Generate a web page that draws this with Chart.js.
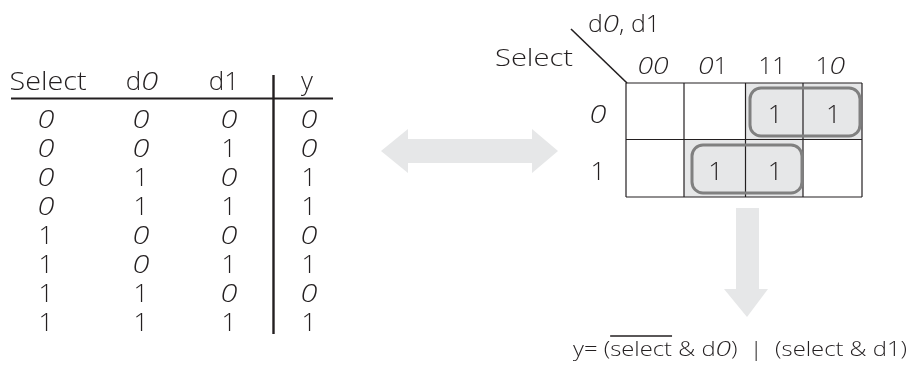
<!DOCTYPE html>
<html>
<head>
<meta charset="utf-8">
<script src="https://cdn.jsdelivr.net/npm/chart.js@4"></script>
<style>
html,body{margin:0;padding:0;background:#fff;}
#wrap{width:914px;height:367px;position:relative;}
</style>
</head>
<body>
<div id="wrap"><canvas id="c"></canvas></div>
<script>
// ---- data ----
const tableHeaders = ['Select', 'd0', 'd1', 'y'];
const selectCol = [0, 0, 0, 0, 1, 1, 1, 1];
const d0Col     = [0, 0, 1, 1, 0, 0, 1, 1];
const d1Col     = [0, 1, 0, 1, 0, 1, 0, 1];
const yCol      = [0, 0, 1, 1, 0, 1, 0, 1];
const kmapColLabels = ['00', '01', '11', '10'];
const kmapRowLabels = ['0', '1'];
const kmapRow0 = [0, 0, 1, 1];
const kmapRow1 = [0, 1, 1, 0];
const kmapRowTitle = 'Select';
const kmapColTitle = 'd0, d1';
const groupRow   = [0, 1];
const groupStart = [2, 1];
const groupEnd   = [3, 2];
const eqPrefix = 'y= (';
const eqBar = 'select';
const eqRest = ' & d0)  |  (select & d1)';

// ---- drawing ----
const INK = '#231f20';
const SHADE = '#e6e7e8';
const LOOP = '#808080';
const FONT = '"Open Sans", "Noto Sans", sans-serif';
const ZERO_STRETCH = 1.18;

function runs(s) {
  const out = [];
  for (const ch of s) {
    const it = ch === '0';
    if (out.length && out[out.length - 1].it === it) out[out.length - 1].t += ch;
    else out.push({t: ch, it});
  }
  return out;
}
function fontFor(size, it) { return (it ? 'italic ' : '') + '300 ' + size + 'px ' + FONT; }
function runW(ctx, r, size) { ctx.font = fontFor(size, r.it); return ctx.measureText(r.t).width * (r.it ? ZERO_STRETCH : 1); }
function measure(ctx, s, size) {
  let w = 0;
  for (const r of runs(s)) w += runW(ctx, r, size);
  return w;
}
// draw rich text; y = vertical center of cap height
function drawText(ctx, s, x, y, size, align, targetW) {
  const w = measure(ctx, s, size);
  const sx = targetW ? targetW / w : 1;
  const start = align === 'left' ? x : x - w * sx / 2;
  const base = y + size * 0.36;
  ctx.save();
  ctx.fillStyle = INK;
  ctx.textBaseline = 'alphabetic';
  ctx.textAlign = 'left';
  ctx.translate(start, base);
  ctx.scale(sx, 1);
  let cx = 0;
  for (const r of runs(s)) {
    ctx.font = fontFor(size, r.it);
    const k = r.it ? ZERO_STRETCH : 1;
    ctx.save();
    ctx.translate(cx, 0);
    ctx.scale(k, 1);
    ctx.fillText(r.t, 0, 0);
    ctx.restore();
    cx += ctx.measureText(r.t).width * k;
  }
  ctx.restore();
  return sx;
}

const diagram = {
  id: 'diagram',
  beforeDraw(chart) {
    const c = chart.ctx;
    c.save(); c.fillStyle = '#fff'; c.fillRect(0, 0, chart.width, chart.height); c.restore();
  },
  afterDraw(chart) {
    const ctx = chart.ctx;
    const X = v => chart.scales.x.getPixelForValue(v);
    const Y = v => chart.scales.y.getPixelForValue(v);
    const line = (x1, y1, x2, y2, w, col) => {
      ctx.save(); ctx.strokeStyle = col || INK; ctx.lineWidth = w; ctx.lineCap = 'butt';
      ctx.beginPath(); ctx.moveTo(X(x1), Y(y1)); ctx.lineTo(X(x2), Y(y2)); ctx.stroke(); ctx.restore();
    };
    const poly = (pts, col) => {
      ctx.save(); ctx.fillStyle = col; ctx.beginPath();
      pts.forEach((p, i) => i ? ctx.lineTo(X(p[0]), Y(p[1])) : ctx.moveTo(X(p[0]), Y(p[1])));
      ctx.closePath(); ctx.fill(); ctx.restore();
    };

    // ---- truth table ----
    const hdrX = [48, 142, 224, 307];
    const colX = [46, 141, 229, 309];
    tableHeaders.forEach((h, i) => drawText(ctx, h, X(hdrX[i]), Y(81), 26, 'center', i === 0 ? 77 : null));
    const cols = [selectCol, d0Col, d1Col, yCol];
    cols.forEach((col, ci) => col.forEach((v, ri) => {
      drawText(ctx, String(v), X(colX[ci]), Y(119 + ri * 29), 26, 'center');
    }));
    line(11, 98.5, 333, 98.5, 2);
    line(273.5, 75, 273.5, 334, 2.4);

    // ---- double arrow ----
    poly([[381,151],[408,129],[408,139],[532,139],[532,129],[558,151],[532,173],[532,163],[408,163],[408,173]], SHADE);

    // ---- K-map ----
    const gx = [626, 684, 745.5, 803, 862];
    const gy = [83, 139.5, 197];
    const rows = [kmapRow0, kmapRow1];
    rows.forEach((r, ri) => r.forEach((v, ci) => {
      if (v) {
        ctx.fillStyle = SHADE;
        ctx.fillRect(X(gx[ci]), Y(gy[ri]), X(gx[ci + 1]) - X(gx[ci]), Y(gy[ri + 1]) - Y(gy[ri]));
      }
    }));
    gx.forEach(x => line(x, gy[0], x, gy[2], 1.2));
    gy.forEach(y => line(gx[0], y, gx[4], y, 1.2));
    // loops
    const loopBox = [[750, 88, 860, 136], [692, 145, 802, 193]];
    groupRow.forEach((r, i) => {
      const b = loopBox[i];
      ctx.save(); ctx.strokeStyle = LOOP; ctx.lineWidth = 3;
      ctx.beginPath(); ctx.roundRect(X(b[0]), Y(b[1]), X(b[2]) - X(b[0]), Y(b[3]) - Y(b[1]), 11);
      ctx.stroke(); ctx.restore();
    });
    // cell values
    rows.forEach((r, ri) => r.forEach((v, ci) => {
      if (v) drawText(ctx, String(v), X((gx[ci] + gx[ci + 1]) / 2 + 1), Y((gy[ri] + gy[ri + 1]) / 2 + 2), 26, 'center');
    }));
    // labels
    kmapColLabels.forEach((l, i) => drawText(ctx, l, X((gx[i] + gx[i + 1]) / 2 - 2), Y(65), 24, 'center'));
    kmapRowLabels.forEach((l, i) => drawText(ctx, l, X(598), Y((gy[i] + gy[i + 1]) / 2 + 2), 26, 'center'));
    drawText(ctx, kmapRowTitle, X(534), Y(57), 24, 'center', 78);
    drawText(ctx, kmapColTitle, X(624), Y(24), 23, 'center', 72);
    line(571, 29, 627, 83, 1.6);

    // ---- down arrow ----
    poly([[736,208],[759,208],[759,289],[768,289],[747,317],[724,289],[736,289]], SHADE);

    // ---- equation ----
    const full = eqPrefix + eqBar + eqRest;
    const size = 20;
    const w = measure(ctx, full, size);
    const target = 334;
    const sx = target / w;
    const x0 = X(573);
    drawText(ctx, full, x0, Y(349), size, 'left', target);
    const pre = measure(ctx, eqPrefix, size) * sx;
    const bw = measure(ctx, eqBar, size) * sx;
    ctx.save(); ctx.strokeStyle = INK; ctx.lineWidth = 1.6;
    ctx.beginPath(); ctx.moveTo(x0 + pre, Y(336)); ctx.lineTo(x0 + pre + bw, Y(336)); ctx.stroke(); ctx.restore();
  }
};

new Chart(document.getElementById('c'), {
  type: 'scatter',
  data: { datasets: [] },
  options: {
    responsive: true,
    maintainAspectRatio: false,
    animation: false,
    layout: { padding: 0 },
    plugins: { legend: { display: false }, tooltip: { enabled: false } },
    scales: {
      x: { type: 'linear', min: 0, max: 914, display: false },
      y: { type: 'linear', min: 0, max: 367, reverse: true, display: false }
    }
  },
  plugins: [diagram]
});
</script>
</body>
</html>
